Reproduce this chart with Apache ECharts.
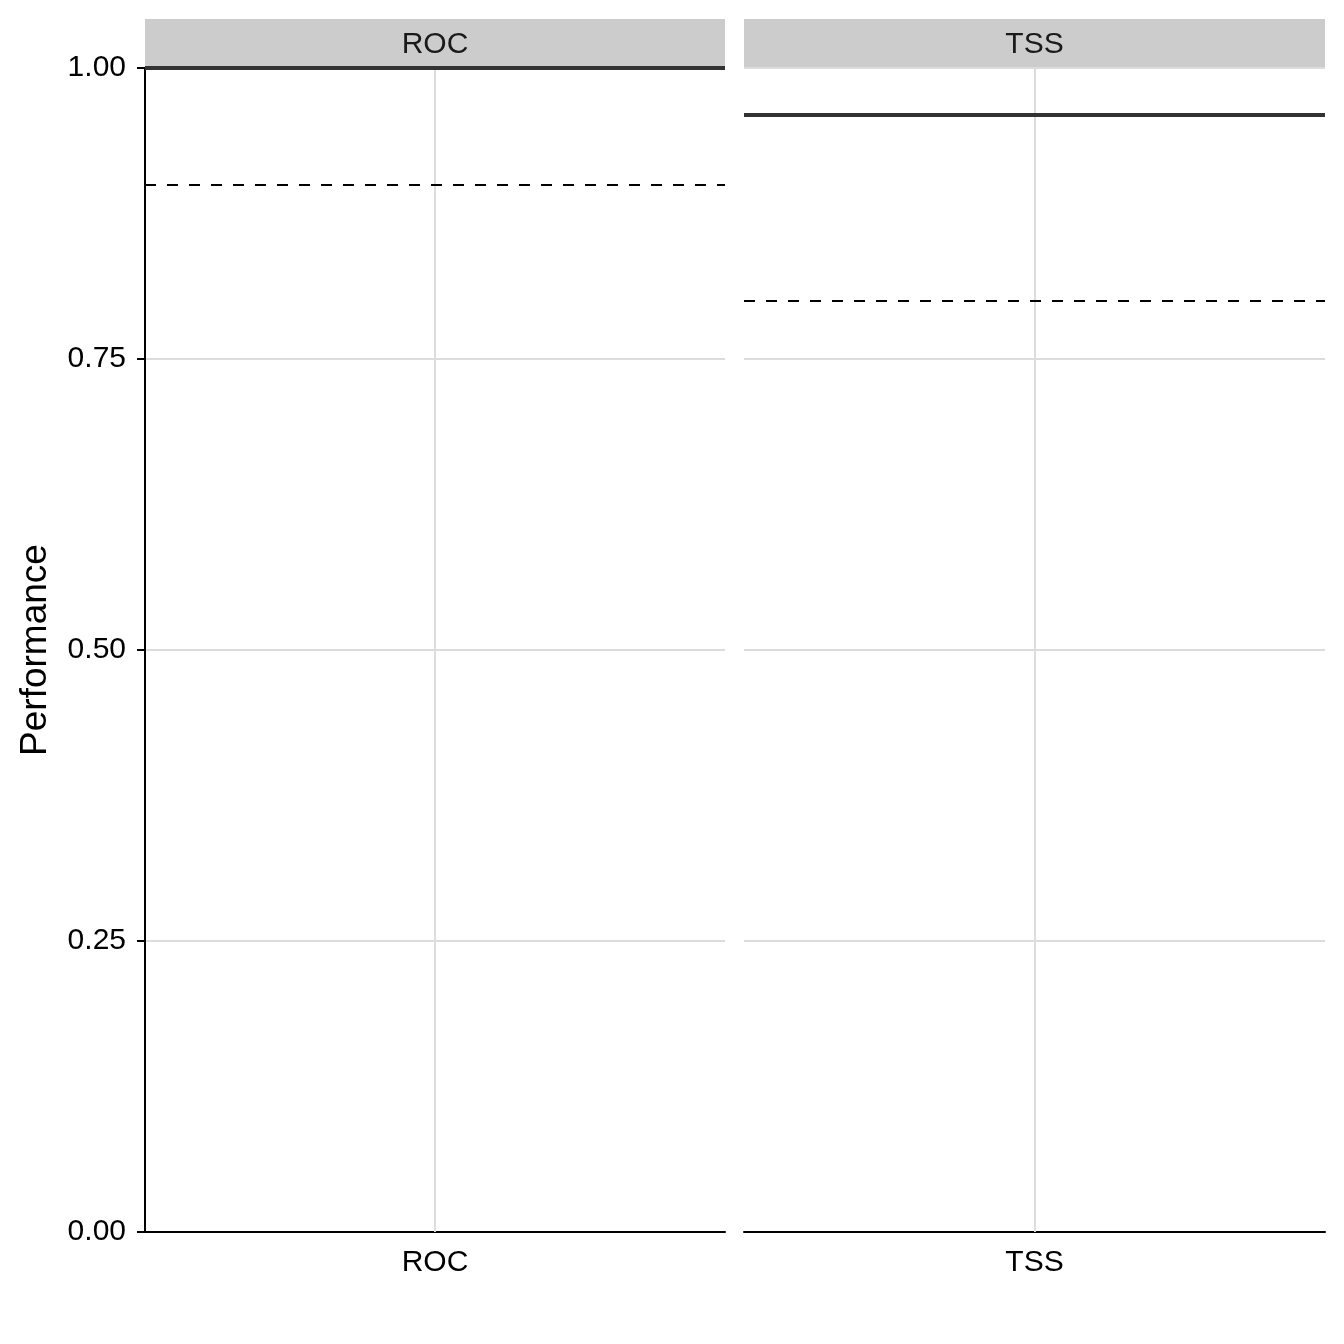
<!DOCTYPE html>
<html lang="en">
<head>
<meta charset="utf-8">
<title>Performance</title>
<script src="https://cdn.jsdelivr.net/npm/echarts@6/dist/echarts.min.js"></script>
<style>
  html, body { margin: 0; padding: 0; background: #fff; }
  #main { width: 1344px; height: 1344px; }
</style>
</head>
<body>
<div id="main"></div>
<script>
// data
var metrics = ['ROC', 'TSS'];
var meanVals = [0.999, 0.965];     // solid line
var cutoffVals = [0.90, 0.80];     // dashed line
var yTicks = [0, 0.25, 0.5, 0.75, 1];

// layout
var panels = [
  { left: 145, width: 580 },
  { left: 744, width: 581 }
];
var plotTop = 68, plotBottom = 112;
var stripTop = 19, stripH = 49;
var font = 'Liberation Sans, Arial, sans-serif';

var chart = echarts.init(document.getElementById('main'));

var grids = [], xAxes = [], yAxes = [], series = [], graphics = [];

metrics.forEach(function (m, i) {
  var p = panels[i];
  grids.push({ left: p.left, width: p.width, top: plotTop, bottom: plotBottom, containLabel: false });

  xAxes.push({
    type: 'category',
    gridIndex: i,
    data: [m],
    boundaryGap: true,
    axisLine: { lineStyle: { color: '#000', width: 2 } },
    axisTick: { alignWithLabel: true, length: 8, lineStyle: { color: '#000', width: 2 } },
    axisLabel: { color: '#000', fontSize: 30, fontFamily: font, margin: 16 },
    splitLine: { show: false }
  });

  yAxes.push({
    type: 'value',
    gridIndex: i,
    min: yTicks[0],
    max: yTicks[yTicks.length - 1],
    interval: 0.25,
    name: i === 0 ? 'Performance' : '',
    nameLocation: 'middle',
    nameGap: 91,
    nameTextStyle: { color: '#000', fontSize: 37, fontFamily: font },
    axisLine: { show: i === 0, lineStyle: { color: '#000', width: 2 } },
    axisTick: { show: i === 0, length: 8, lineStyle: { color: '#000', width: 2 } },
    axisLabel: {
      show: i === 0, color: '#000', fontSize: 30, fontFamily: font, margin: 19,
      formatter: function (v) { return v.toFixed(2); }
    },
    splitLine: { show: true, lineStyle: { color: '#dcdcdc', width: 2 } }
  });

  // vertical grid line at the category centre
  series.push({
    type: 'line', xAxisIndex: i, yAxisIndex: i, data: [], z: 1,
    markLine: {
      silent: true, symbol: 'none', label: { show: false },
      lineStyle: { color: '#dcdcdc', width: 2, type: 'solid' },
      data: [{ xAxis: m }]
    }
  });

  // mean and cutoff lines
  series.push({
    type: 'line', xAxisIndex: i, yAxisIndex: i, data: [], z: 3,
    markLine: {
      silent: true, symbol: 'none', label: { show: false },
      data: [
        { yAxis: cutoffVals[i], lineStyle: { color: '#000', width: 2, type: [11, 11] } },
        { yAxis: meanVals[i], lineStyle: { color: '#333', width: 4, type: 'solid' } }
      ]
    }
  });

  // facet strip
  graphics.push({
    type: 'rect',
    shape: { x: p.left, y: stripTop, width: p.width, height: stripH },
    style: { fill: '#cccccc' }, silent: true
  });
  graphics.push({
    type: 'text',
    x: p.left + p.width / 2, y: stripTop + stripH / 2 + 1,
    style: { text: m, fill: '#1a1a1a', fontSize: 30, fontFamily: font, align: 'center', verticalAlign: 'middle' },
    silent: true
  });
});

chart.setOption({
  animation: false,
  backgroundColor: '#fff',
  grid: grids,
  xAxis: xAxes,
  yAxis: yAxes,
  series: series,
  graphic: graphics
});
</script>
</body>
</html>
